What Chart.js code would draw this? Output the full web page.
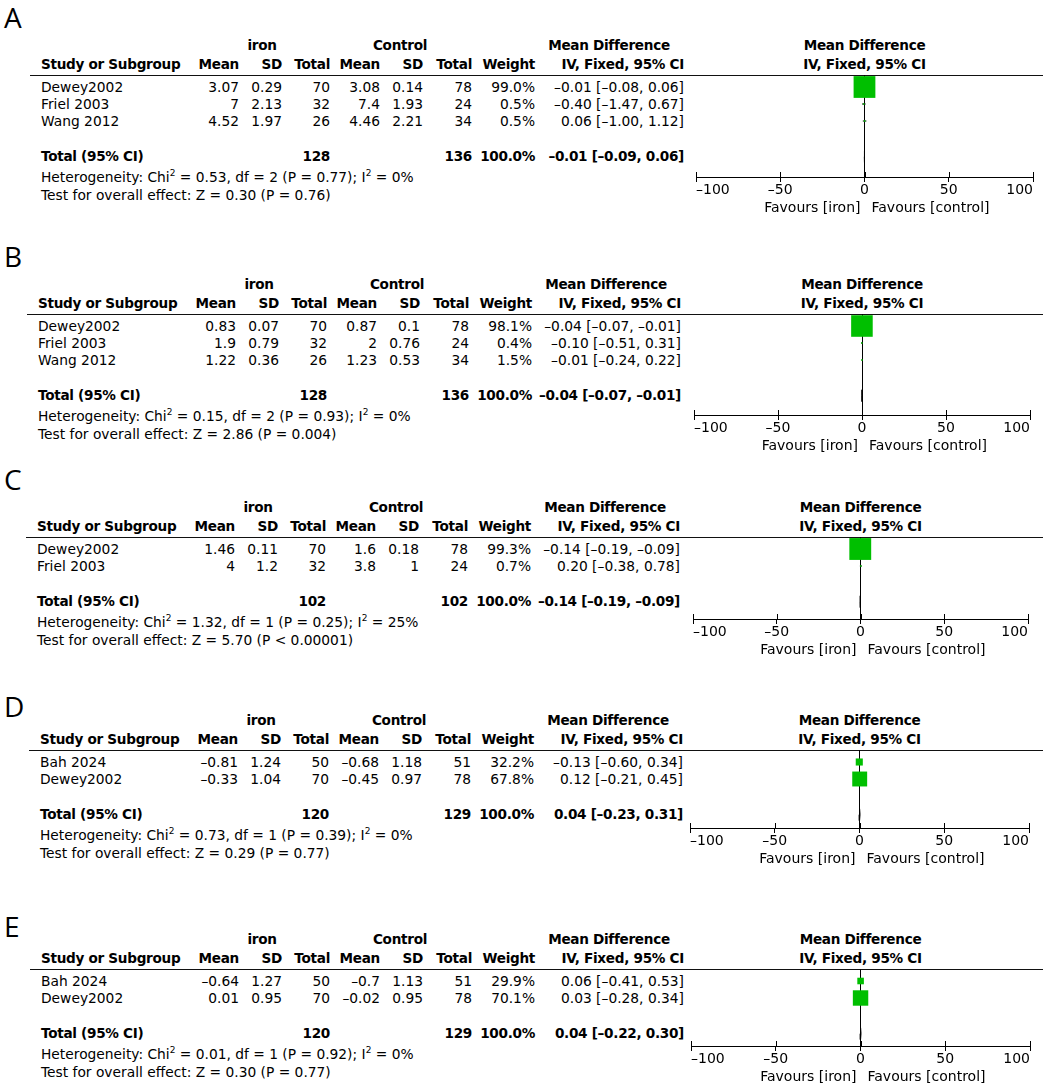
<!DOCTYPE html>
<html>
<head>
<meta charset="utf-8">
<script src="https://cdn.jsdelivr.net/npm/chart.js@4.4.1/dist/chart.umd.min.js"></script>
<style>
  body { margin: 0; width: 1049px; height: 1091px; position: relative; overflow: hidden; background: #fff;
         font-family: "DejaVu Sans", sans-serif; font-size: 13.8px; color: #000; }
  .t { position: absolute; white-space: nowrap; line-height: 17px; }
  .b { font-weight: bold; font-size: 13.6px; letter-spacing: -0.3px; }
  .letter { position: absolute; font-family: "Open Sans", sans-serif; font-size: 28px; line-height: 32px; }
  .rule { position: absolute; height: 0; border-top: 1.2px solid #111; }
  sup { font-size: 9px; line-height: 0; vertical-align: 6px; }
  canvas { position: absolute; }
</style>
</head>
<body>
<script>
// ---- data ----
const panelLetters = ['A', 'B', 'C', 'D', 'E'];

// A
const studiesA = ['Dewey2002', 'Friel 2003', 'Wang 2012'];
const ironA = [[3.07, 0.29, 70], [7, 2.13, 32], [4.52, 1.97, 26]];
const controlA = [[3.08, 0.14, 78], [7.4, 1.93, 24], [4.46, 2.21, 34]];
const weightA = [99.0, 0.5, 0.5];
const mdA = [[-0.01, -0.08, 0.06], [-0.40, -1.47, 0.67], [0.06, -1.00, 1.12]];
const totalNA = [128, 136];
const totalMdA = [-0.01, -0.09, 0.06];
const hetA = ['0.53', '2', '0.77', '0%'];
const overallA = ['0.30', '= 0.76'];

// B
const studiesB = ['Dewey2002', 'Friel 2003', 'Wang 2012'];
const ironB = [[0.83, 0.07, 70], [1.9, 0.79, 32], [1.22, 0.36, 26]];
const controlB = [[0.87, 0.1, 78], [2, 0.76, 24], [1.23, 0.53, 34]];
const weightB = [98.1, 0.4, 1.5];
const mdB = [[-0.04, -0.07, -0.01], [-0.10, -0.51, 0.31], [-0.01, -0.24, 0.22]];
const totalNB = [128, 136];
const totalMdB = [-0.04, -0.07, -0.01];
const hetB = ['0.15', '2', '0.93', '0%'];
const overallB = ['2.86', '= 0.004'];

// C
const studiesC = ['Dewey2002', 'Friel 2003'];
const ironC = [[1.46, 0.11, 70], [4, 1.2, 32]];
const controlC = [[1.6, 0.18, 78], [3.8, 1, 24]];
const weightC = [99.3, 0.7];
const mdC = [[-0.14, -0.19, -0.09], [0.20, -0.38, 0.78]];
const totalNC = [102, 102];
const totalMdC = [-0.14, -0.19, -0.09];
const hetC = ['1.32', '1', '0.25', '25%'];
const overallC = ['5.70', '< 0.00001'];

// D
const studiesD = ['Bah 2024', 'Dewey2002'];
const ironD = [[-0.81, 1.24, 50], [-0.33, 1.04, 70]];
const controlD = [[-0.68, 1.18, 51], [-0.45, 0.97, 78]];
const weightD = [32.2, 67.8];
const mdD = [[-0.13, -0.60, 0.34], [0.12, -0.21, 0.45]];
const totalND = [120, 129];
const totalMdD = [0.04, -0.23, 0.31];
const hetD = ['0.73', '1', '0.39', '0%'];
const overallD = ['0.29', '= 0.77'];

// E
const studiesE = ['Bah 2024', 'Dewey2002'];
const ironE = [[-0.64, 1.27, 50], [0.01, 0.95, 70]];
const controlE = [[-0.7, 1.13, 51], [-0.02, 0.95, 78]];
const weightE = [29.9, 70.1];
const mdE = [[0.06, -0.41, 0.53], [0.03, -0.28, 0.34]];
const totalNE = [120, 129];
const totalMdE = [0.04, -0.22, 0.30];
const hetE = ['0.01', '1', '0.92', '0%'];
const overallE = ['0.30', '= 0.77'];

const xTicks = [-100, -50, 0, 50, 100];
const groupNames = ['iron', 'control'];

// ---- layout ----
const W = 1049;
const ROW = 17;
const TOTAL_GAP = 1.1;   // total row sits one blank row below the studies
const GREEN = '#00bf00';
const FONT = { family: 'DejaVu Sans', size: 14 };

const layouts = [
    { letterY: 17,  h1: 45,  axisY: 177,  dx: 0,  axL: 696, axR: 1033 },
    { letterY: 256, h1: 284, axisY: 415,  dx: -3, axL: 694, axR: 1030 },
    { letterY: 479, h1: 507, axisY: 619,  dx: -4, axL: 693, axR: 1028 },
    { letterY: 706, h1: 720, axisY: 828,  dx: -1, axL: 690, axR: 1029 },
    { letterY: 926, h1: 939, axisY: 1046, dx: 0,  axL: 691, axR: 1030 }
];

const cols = { study: 41, mean: 239, sd: 282, n: 330, cMean: 380, cSd: 423, cN: 472,
               weight: 535, ci: 684, ironHead: 262, ctrlHead: 400, mdHead: 609 };

const panels = [
    { studies: studiesA, iron: ironA, control: controlA, weight: weightA, md: mdA, totalN: totalNA, totalMd: totalMdA, het: hetA, overall: overallA },
    { studies: studiesB, iron: ironB, control: controlB, weight: weightB, md: mdB, totalN: totalNB, totalMd: totalMdB, het: hetB, overall: overallB },
    { studies: studiesC, iron: ironC, control: controlC, weight: weightC, md: mdC, totalN: totalNC, totalMd: totalMdC, het: hetC, overall: overallC },
    { studies: studiesD, iron: ironD, control: controlD, weight: weightD, md: mdD, totalN: totalND, totalMd: totalMdD, het: hetD, overall: overallD },
    { studies: studiesE, iron: ironE, control: controlE, weight: weightE, md: mdE, totalN: totalNE, totalMd: totalMdE, het: hetE, overall: overallE }
];

const num = v => String(v).replace('-', '\u2013');
const f2 = v => v.toFixed(2).replace('-', '\u2013');
const ciText = m => `${f2(m[0])} [${f2(m[1])}, ${f2(m[2])}]`;

function put(text, x, y, align, bold, html) {
    const d = document.createElement('div');
    d.className = 't' + (bold ? ' b' : '');
    if (html) d.innerHTML = text; else d.textContent = text;
    d.style.top = (y - 8.5) + 'px';
    if (align === 'right') {
        d.style.right = (W - x) + 'px';
    } else if (align === 'center') {
        d.style.left = x + 'px';
        d.style.transform = 'translateX(-50%)';
    } else {
        d.style.left = x + 'px';
    }
    document.body.appendChild(d);
}

// tick marks above the axis line + the "Favours" captions
const forestAxis = {
    id: 'forestAxis',
    afterDraw(chart) {
        const ctx = chart.ctx;
        const s = chart.scales.x;
        const bottom = chart.chartArea.bottom;
        ctx.save();
        ctx.strokeStyle = '#000';
        ctx.lineWidth = 1;
        s.ticks.forEach(t => {
            const x = Math.round(s.getPixelForValue(t.value)) + 0.5;
            ctx.beginPath();
            ctx.moveTo(x, bottom - 5);
            ctx.lineTo(x, bottom);
            ctx.stroke();
        });
        const x0 = s.getPixelForValue(0);
        ctx.fillStyle = '#000';
        ctx.font = '14px "DejaVu Sans"';
        ctx.textBaseline = 'middle';
        ctx.textAlign = 'right';
        ctx.fillText(`Favours [${groupNames[0]}]`, x0 - 4, bottom + 31);
        ctx.textAlign = 'left';
        ctx.fillText(`Favours [${groupNames[1]}]`, x0 + 7, bottom + 31);
        ctx.restore();
    }
};

function drawPanel(p, L, letter) {
    const c = {};
    Object.keys(cols).forEach(k => { c[k] = cols[k] + L.dx; });
    const ruleY = L.h1 + 30;
    const row0 = L.h1 + 42;
    const n = p.studies.length;
    const totalY = row0 + ROW * (n + TOTAL_GAP);
    const plotMid = (L.axL + L.axR) / 2;

    // letter
    const le = document.createElement('div');
    le.className = 'letter';
    le.textContent = letter;
    le.style.left = '4px';
    le.style.top = (L.letterY - 16) + 'px';
    document.body.appendChild(le);

    // headers
    put('iron', c.ironHead, L.h1, 'center', true);
    put('Control', c.ctrlHead, L.h1, 'center', true);
    put('Mean Difference', c.mdHead, L.h1, 'center', true);
    put('Mean Difference', plotMid, L.h1, 'center', true);
    const h2 = L.h1 + 19;
    put('Study or Subgroup', c.study, h2, 'left', true);
    put('Mean', c.mean, h2, 'right', true);
    put('SD', c.sd, h2, 'right', true);
    put('Total', c.n, h2, 'right', true);
    put('Mean', c.cMean, h2, 'right', true);
    put('SD', c.cSd, h2, 'right', true);
    put('Total', c.cN, h2, 'right', true);
    put('Weight', c.weight, h2, 'right', true);
    put('IV, Fixed, 95% CI', c.ci, h2, 'right', true);
    put('IV, Fixed, 95% CI', plotMid, h2, 'center', true);

    const rule = document.createElement('div');
    rule.className = 'rule';
    rule.style.left = (30 + L.dx) + 'px';
    rule.style.width = (1043 - 30 - L.dx) + 'px';
    rule.style.top = ruleY + 'px';
    document.body.appendChild(rule);

    // study rows
    p.studies.forEach((s, i) => {
        const y = row0 + ROW * i;
        put(s, c.study, y, 'left');
        put(num(p.iron[i][0]), c.mean, y, 'right');
        put(num(p.iron[i][1]), c.sd, y, 'right');
        put(num(p.iron[i][2]), c.n, y, 'right');
        put(num(p.control[i][0]), c.cMean, y, 'right');
        put(num(p.control[i][1]), c.cSd, y, 'right');
        put(num(p.control[i][2]), c.cN, y, 'right');
        put(p.weight[i].toFixed(1) + '%', c.weight, y, 'right');
        put(ciText(p.md[i]), c.ci, y, 'right');
    });

    // total + footnotes
    put('Total (95% CI)', c.study, totalY, 'left', true);
    put(String(p.totalN[0]), c.n, totalY, 'right', true);
    put(String(p.totalN[1]), c.cN, totalY, 'right', true);
    put('100.0%', c.weight, totalY, 'right', true);
    put(ciText(p.totalMd), c.ci, totalY, 'right', true);
    const hetY = totalY + 21;
    put(`Heterogeneity: Chi<sup>2</sup> = ${p.het[0]}, df = ${p.het[1]} (P = ${p.het[2]}); I<sup>2</sup> = ${p.het[3]}`,
        c.study, hetY, 'left', false, true);
    put(`Test for overall effect: Z = ${p.overall[0]} (P ${p.overall[1]})`, c.study, hetY + 18, 'left');

    // forest plot
    const axisH = 42;
    const H = L.axisY - ruleY + axisH;
    const canvas = document.createElement('canvas');
    canvas.width = W;
    canvas.height = H;
    canvas.style.left = '0px';
    canvas.style.top = ruleY + 'px';
    canvas.style.width = W + 'px';
    canvas.style.height = H + 'px';
    document.body.appendChild(canvas);

    const yMin = -(row0 - ruleY) / ROW;
    const yMax = yMin + (L.axisY - ruleY) / ROW;
    const tIdx = n + TOTAL_GAP;
    const tm = p.totalMd;

    const datasets = [{
        type: 'scatter',
        data: p.md.map((m, i) => ({ x: m[0], y: i })),
        pointStyle: 'rect',
        pointRadius: p.weight.map(w => Math.max(1.6, 0.22 * w) / Math.SQRT2),
        backgroundColor: GREEN,
        borderColor: GREEN,
        borderWidth: 0,
        clip: false,
        order: 0
    }];
    p.md.forEach((m, i) => {
        datasets.push({
            type: 'line',
            data: [{ x: m[1], y: i }, { x: m[2], y: i }],
            borderColor: '#000',
            borderWidth: 1,
            pointRadius: 0,
            order: 1
        });
    });
    datasets.push({
        type: 'line',
        data: [{ x: tm[1], y: tIdx }, { x: tm[0], y: tIdx - 0.35 }, { x: tm[2], y: tIdx },
               { x: tm[0], y: tIdx + 0.35 }, { x: tm[1], y: tIdx }],
        borderColor: '#000',
        backgroundColor: '#000',
        borderWidth: 1,
        pointRadius: 0,
        fill: 'shape',
        order: 1
    });

    new Chart(canvas, {
        type: 'scatter',
        data: { datasets },
        options: {
            responsive: false,
            animation: false,
            events: [],
            layout: { autoPadding: false, padding: { left: L.axL, right: W - L.axR, top: 0, bottom: 0 } },
            plugins: { legend: { display: false }, tooltip: { enabled: false } },
            scales: {
                x: {
                    type: 'linear',
                    min: xTicks[0],
                    max: xTicks[xTicks.length - 1],
                    afterBuildTicks: s => { s.ticks = xTicks.map(v => ({ value: v })); },
                    afterFit: s => { s.height = axisH; },
                    ticks: {
                        align: 'inner',
                        color: '#000',
                        font: FONT,
                        padding: 0,
                        maxRotation: 0,
                        callback: v => num(v)
                    },
                    grid: {
                        color: ctx => (ctx.tick && ctx.tick.value === 0) ? '#000' : 'rgba(0,0,0,0)',
                        tickColor: '#000',
                        tickLength: 5,
                        lineWidth: 1
                    },
                    border: { display: true, color: '#000', width: 1 }
                },
                y: { type: 'linear', display: false, reverse: true, min: yMin, max: yMax }
            }
        },
        plugins: [forestAxis]
    });
}

panels.forEach((p, i) => drawPanel(p, layouts[i], panelLetters[i]));
</script>
</body>
</html>
